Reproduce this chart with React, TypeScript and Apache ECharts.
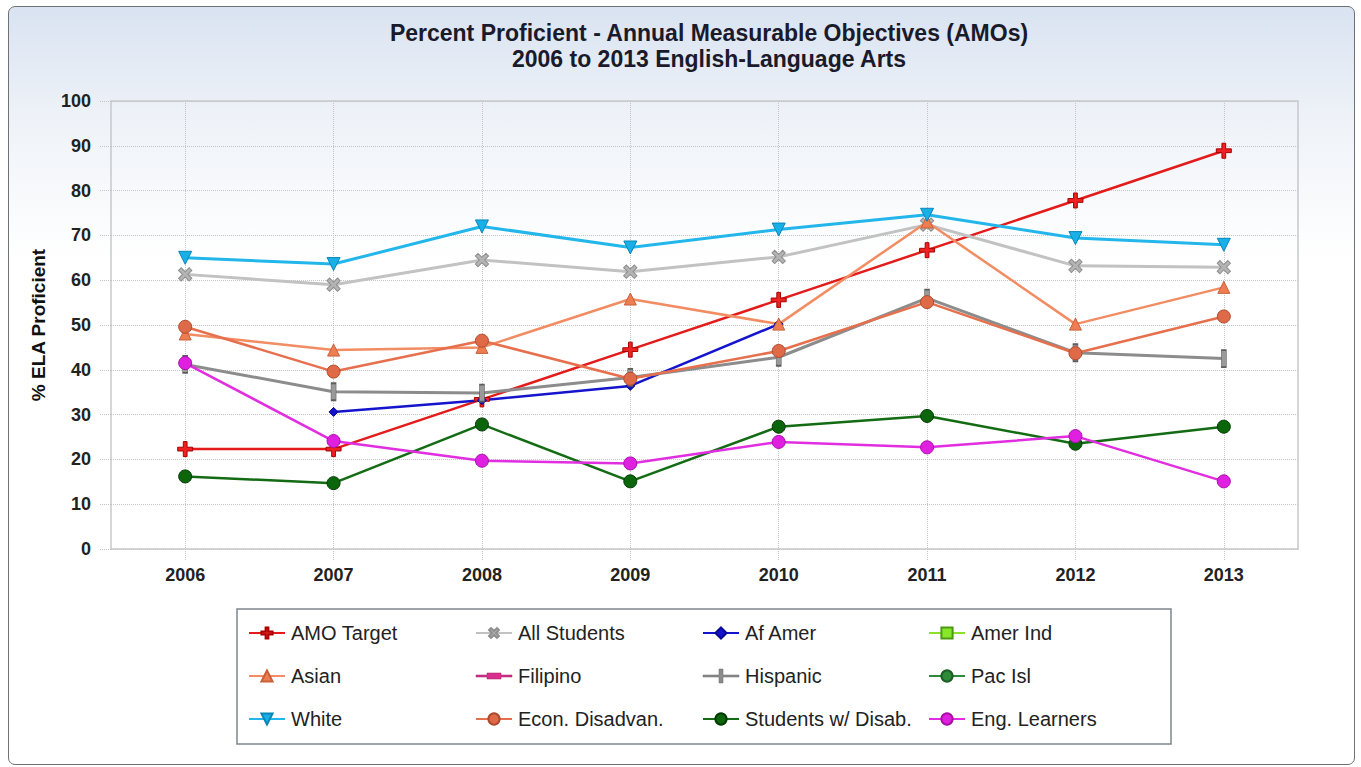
import React, { useEffect, useRef } from "react";
import * as echarts from "echarts";

const years = ["2006", "2007", "2008", "2009", "2010", "2011", "2012", "2013"];

const amoTarget = [22.3, 22.3, 33.4, 44.5, 55.6, 66.7, 77.8, 88.9];
const allStudents = [61.3, 59.0, 64.5, 61.9, 65.2, 72.4, 63.2, 62.9];
const afAmer = [null, 30.6, 33.2, 36.4, 50.2, null, null, null];
const amerInd: (number | null)[] = [];
const asian = [48.0, 44.4, 45.0, 55.8, 50.2, 73.0, 50.2, 58.4];
const filipino: (number | null)[] = [];
const hispanic = [41.2, 35.1, 34.8, 38.3, 42.8, 56.0, 43.8, 42.5];
const pacIsl: (number | null)[] = [];
const white = [65.0, 63.6, 72.0, 67.3, 71.3, 74.6, 69.4, 67.9];
const econDisadv = [49.6, 39.6, 46.5, 38.0, 44.2, 55.1, 43.7, 51.9];
const studentsDisab = [16.2, 14.7, 27.8, 15.1, 27.3, 29.7, 23.5, 27.3];
const engLearners = [41.5, 24.1, 19.7, 19.1, 23.9, 22.7, 25.2, 15.1];

const yTicks = { min: 0, max: 100, interval: 10 };

const FONT = "'Liberation Sans', Arial, sans-serif";
const PLUS = "path://M3,0H5V3H8V5H5V8H3V5H0V3H3Z";
const ICON_VBAR = "path://M0,6H16V0H20V6H36V8H20V14H16V8H0Z";
const ICON_HBAR = "path://M0,6H11V4H25V6H36V8H25V10H11V8H0Z";

function mk(
  name: string,
  data: (number | null)[],
  line: string,
  fill: string,
  border: string,
  symbol: string,
  size: number | number[],
  width = 2.5,
  rotate = 0
) {
  return {
    name,
    type: "line",
    data,
    symbol,
    symbolSize: size,
    symbolRotate: rotate,
    symbolKeepAspect: true,
    showAllSymbol: true,
    connectNulls: false,
    lineStyle: { color: line, width },
    itemStyle: { color: fill, borderColor: border, borderWidth: 1, opacity: 1 },
    emphasis: { disabled: true },
  };
}

export default function App() {
  const ref = useRef<HTMLDivElement>(null);
  useEffect(() => {
    if (!ref.current) return;
    const chart = echarts.init(ref.current, null, { renderer: "svg" });
    const series = [
      mk("AMO Target", amoTarget, "#e31b1b", "#ee2222", "#a80000", PLUS, 15, 2.5),
      mk("All Students", allStudents, "#c2c2c2", "#b4b4b4", "#8e8e8e", PLUS, 15, 3, 45),
      mk("Af Amer", afAmer, "#1414cc", "#1414cc", "#0a0a90", "diamond", 9, 2.5),
      mk("Amer Ind", amerInd, "#8ae02a", "#86e828", "#4c9a14", "rect", 11, 2.5),
      mk("Asian", asian, "#f28c62", "#ee7e52", "#c8603a", "triangle", 12, 2.5),
      mk("Filipino", filipino, "#d6308c", "#d6308c", "#a01c66", "rect", [14, 5], 2.5),
      mk("Hispanic", hispanic, "#8c8c8c", "#9a9a9a", "#5e5e5e", "rect", [5, 17], 3),
      mk("Pac Isl", pacIsl, "#2e8b3a", "#2e8b3a", "#1c5e24", "circle", 11, 2.5),
      mk("White", white, "#22b6ea", "#18b0e6", "#0a86b8", "triangle", 13, 3, 180),
      mk("Econ. Disadvan.", econDisadv, "#e6704e", "#df6a48", "#b04a2e", "circle", 13, 2.5),
      mk("Students w/ Disab.", studentsDisab, "#136b13", "#0b650b", "#053a05", "circle", 13, 2.5),
      mk("Eng. Learners", engLearners, "#e02ee0", "#e020e0", "#a810a8", "circle", 13, 2.5),
    ];
    const names = series.map((s) => s.name);
    const iconFor = (n: string) =>
      n === "Hispanic"
        ? { name: n, icon: ICON_VBAR, itemStyle: { color: "#8c8c8c", borderColor: "#6a6a6a", borderWidth: 0.5 } }
        : n === "Filipino"
        ? { name: n, icon: ICON_HBAR, itemStyle: { color: "#d6308c", borderColor: "#a01c66", borderWidth: 0.5 } }
        : n;
    const cols = [248, 475, 702, 928];
    const legends = cols.map((x, c) => ({
      orient: "vertical",
      left: x,
      top: 623,
      itemWidth: 36,
      itemHeight: 14,
      itemGap: 23,
      padding: 0,
      selectedMode: false,
      data: [iconFor(names[c]), iconFor(names[c + 4]), iconFor(names[c + 8])],
      textStyle: {
        fontFamily: FONT,
        fontSize: 20,
        color: "#222",
        lineHeight: 20,
        padding: [0, 0, 0, 1],
      },
    }));
    chart.setOption({
      animation: false,
      backgroundColor: "transparent",
      title: {
        text: "Percent Proficient - Annual Measurable Objectives (AMOs)\n2006 to 2013 English-Language Arts",
        left: 704,
        top: 15,
        textAlign: "center",
        textStyle: {
          fontFamily: FONT,
          fontSize: 23,
          fontWeight: "bold",
          color: "#1a1a2a",
          lineHeight: 26,
        },
      },
      legend: legends,
      grid: {
        left: 111,
        top: 101,
        right: 63,
        bottom: 218,
        show: true,
        backgroundColor: "transparent",
        borderColor: "#c6c9cc",
        borderWidth: 1.5,
        containLabel: false,
      },
      xAxis: {
        type: "category",
        data: years,
        boundaryGap: true,
        axisLine: { show: false },
        axisTick: {
          show: true,
          alignWithLabel: true,
          length: 11,
          lineStyle: { color: "#c4c4c4", type: "dotted", width: 1 },
        },
        splitLine: {
          show: true,
          alignWithLabel: true,
          lineStyle: { color: "#c4c4c4", type: "dotted", width: 1 },
        },
        axisLabel: {
          margin: 17,
          fontFamily: FONT,
          fontSize: 18,
          fontWeight: "bold",
          color: "#222",
        },
      },
      yAxis: {
        type: "value",
        min: yTicks.min,
        max: yTicks.max,
        interval: yTicks.interval,
        name: "% ELA Proficient",
        nameLocation: "middle",
        nameGap: 63,
        nameTextStyle: {
          fontFamily: FONT,
          fontSize: 19,
          fontWeight: "bold",
          color: "#111",
        },
        axisLine: { show: false },
        axisTick: {
          show: true,
          length: 11,
          lineStyle: { color: "#c4c4c4", type: "dotted", width: 1 },
        },
        splitLine: {
          show: true,
          lineStyle: { color: "#c4c4c4", type: "dotted", width: 1 },
        },
        axisLabel: {
          margin: 20,
          fontFamily: FONT,
          fontSize: 18,
          fontWeight: "bold",
          color: "#222",
        },
      },
      graphic: [
        {
          type: "rect",
          z: -10,
          silent: true,
          shape: { x: 237, y: 609, width: 934, height: 135 },
          style: { fill: "#ffffff", stroke: "#7f868c", lineWidth: 1.5 },
        },
      ],
      series,
    });
    return () => chart.dispose();
  }, []);

  return (
    <div style={{ position: "fixed", left: 0, top: 0, width: 1361, height: 767, background: "#fff" }}>
      <div
        style={{
          position: "absolute",
          left: 8,
          top: 6,
          width: 1347,
          height: 759,
          boxSizing: "border-box",
          border: "1.5px solid #6e7275",
          borderRadius: 7,
          background: "linear-gradient(to bottom, #d9e3f1 0px, #eef2f8 110px, #ffffff 250px, #ffffff 100%)",
        }}
      />
      <div ref={ref} style={{ position: "absolute", left: 0, top: 0, width: 1361, height: 767 }} />
    </div>
  );
}
